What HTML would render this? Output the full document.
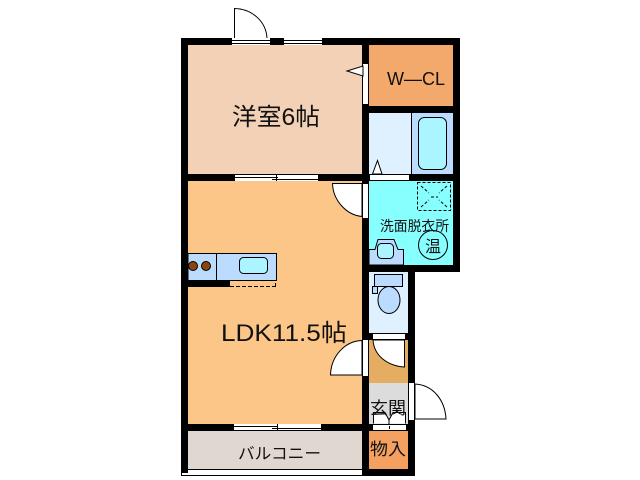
<!DOCTYPE html>
<html><head><meta charset="utf-8">
<style>
html,body{margin:0;padding:0;background:#fff;width:640px;height:480px;overflow:hidden}
svg{display:block}
text{font-family:"Liberation Sans","Noto Sans CJK JP",sans-serif;fill:#111}
</style></head><body>
<svg width="640" height="480" viewBox="0 0 640 480" xmlns="http://www.w3.org/2000/svg">
<!-- walls -->
<g shape-rendering="crispEdges">
<rect x="181" y="38" width="279" height="234" fill="#000"/>
<rect x="181" y="181" width="188" height="292" fill="#000"/>
<rect x="362" y="265" width="53" height="211" fill="#000"/>
<rect x="181" y="469" width="234" height="7" fill="#000"/>
<!-- rooms -->
<rect x="188" y="45" width="174" height="129" fill="#f2d1b6"/>
<rect x="188" y="181" width="174" height="243" fill="#fdc689"/>
<rect x="369" y="45" width="84" height="61" fill="#f3a96c"/>
<rect x="369" y="113" width="84" height="61" fill="#dff1ff"/>
<rect x="412" y="113" width="41" height="61" fill="#bbdcff"/>
<rect x="369" y="181" width="84" height="84" fill="#88ffff"/>
<rect x="369" y="272" width="39" height="61" fill="#dff1ff"/>
<rect x="369" y="340" width="39" height="43" fill="#e5ad62"/>
<rect x="369" y="383" width="39" height="41" fill="#dcdcdc"/>
<rect x="369" y="431" width="39" height="38" fill="#f3a060"/>
<rect x="188" y="431" width="174" height="38" fill="#e0d8d0"/>
<!-- balcony rail -->
<rect x="182" y="473" width="180" height="2" fill="#fff"/>
<rect x="188" y="470" width="174" height="3" fill="#fff"/>
<!-- top window/door -->
<rect x="232" y="38" width="38" height="7" fill="#fff"/>
<rect x="232" y="40" width="38" height="1" fill="#000"/>
<rect x="232" y="43" width="38" height="1" fill="#000"/>
<rect x="284" y="38" width="38" height="7" fill="#fff"/>
<rect x="284" y="40" width="38" height="1" fill="#000"/>
<rect x="284" y="43" width="38" height="1" fill="#000"/>
<!-- window 洋室/LDK -->
<rect x="235" y="175" width="83" height="6" fill="#fff"/>
<rect x="235" y="177" width="43" height="1" fill="#000"/>
<rect x="272" y="179" width="46" height="1" fill="#000"/>
<rect x="276" y="175" width="1" height="6" fill="#000"/>
<!-- window LDK/balcony -->
<rect x="234" y="424" width="87" height="6" fill="#fff"/>
<rect x="234" y="426" width="43" height="1" fill="#000"/>
<rect x="272" y="428" width="49" height="1" fill="#000"/>
<rect x="277" y="424" width="1" height="6" fill="#000"/>
<!-- door slots -->
<rect x="363" y="64" width="5" height="40" fill="#fff"/>
<rect x="363" y="184" width="5" height="34" fill="#fff"/>
<rect x="363" y="340" width="5" height="36" fill="#fff"/>
<rect x="370" y="175" width="39" height="5" fill="#fff"/>
<rect x="373" y="334" width="32" height="5" fill="#fff"/>
<rect x="373" y="425" width="33" height="5" fill="#fff"/>
<rect x="409" y="383" width="5" height="37" fill="#fff"/>
<rect x="389" y="426" width="1" height="3" fill="#000"/>
</g>
<!-- door swings -->
<g fill="#fff" stroke="#000" stroke-width="1">
<path d="M234.500 38V8.500C253 9 266 22 267 38" />
<path d="M347 71L363 66V76Z"/>
<path d="M362 183.500H332.500C333 200 346 215 362 216.500Z"/>
<path d="M362 340.500C345 341 331 356 330.500 375H362Z"/>
<path d="M404.500 340V367C388 366 374 356 373 340Z"/>
<path d="M415 384C433 385 445 400 446 419H415Z"/>
<path d="M372.500 174L377.500 160.500L382 174Z"/>
</g>
<!-- bath -->
<line x1="411.500" y1="113" x2="411.500" y2="174" stroke="#000"/>
<rect x="418.500" y="117.500" width="28" height="52" rx="6" fill="#aaf5ff" stroke="#000"/>
<!-- wash -->
<rect x="417.500" y="182.500" width="33" height="28" fill="none" stroke="#000" stroke-dasharray="3 2"/>
<path d="M421 186L429 193M447 186L439 193M421 207L429 200M447 207L439 200M431 197H438" stroke="#000" stroke-dasharray="3 2" fill="none"/>
<path d="M369 249.500H375L378 239.500H394L398 249.500H403.500V265H369Z" fill="#bbdcff" stroke="#000"/>
<rect x="377.500" y="243.500" width="16" height="15" rx="4" fill="#aaf5ff" stroke="#000"/>
<circle cx="433" cy="245" r="14.500" fill="none" stroke="#000"/>
<text x="380" y="231" font-size="14" textLength="69" lengthAdjust="spacingAndGlyphs">洗面脱衣所</text>
<text x="425" y="252" font-size="16">温</text>
<!-- toilet -->
<rect x="374.500" y="274.500" width="28" height="12" fill="#bbdcff" stroke="#000"/>
<rect x="372.500" y="286.500" width="5" height="7" fill="#bbdcff" stroke="#000"/>
<ellipse cx="389" cy="300" rx="11" ry="13.500" fill="#bbdcff" stroke="#000"/>
<!-- kitchen -->
<rect x="188" y="253.500" width="88.500" height="27" fill="#bbdcff" stroke="#000"/>
<line x1="216.500" y1="253" x2="216.500" y2="281" stroke="#000"/>
<rect x="239.500" y="257.500" width="28" height="16" rx="4" fill="#aaf5ff" stroke="#000"/>
<circle cx="193" cy="266" r="4.500" fill="#8a4510" stroke="#000"/>
<circle cx="206" cy="266" r="4.500" fill="#8a4510" stroke="#000"/>
<rect x="188" y="281" width="42" height="6" fill="#000" shape-rendering="crispEdges"/>
<line x1="230" y1="286.500" x2="275" y2="286.500" stroke="#000" stroke-dasharray="4 2"/>
<line x1="275.500" y1="283" x2="275.500" y2="287" stroke="#000"/>
<!-- entrance -->
<path d="M373.500 423.500V412.500H385L389 420L393 412.500H405.500V423.500" fill="#fff" stroke="#000"/>
<line x1="389" y1="420" x2="389" y2="424" stroke="#000"/>
<!-- labels -->
<text x="232" y="125" font-size="24" textLength="88" lengthAdjust="spacingAndGlyphs">洋室6帖</text>
<text x="221" y="341" font-size="24" textLength="126" lengthAdjust="spacingAndGlyphs">LDK11.5帖</text>
<text x="387" y="85" font-size="18" textLength="58" lengthAdjust="spacingAndGlyphs">W—CL</text>
<text x="370" y="414" font-size="17" textLength="36" lengthAdjust="spacingAndGlyphs">玄関</text>
<text x="370" y="455" font-size="17" textLength="36" lengthAdjust="spacingAndGlyphs">物入</text>
<text x="238" y="459" font-size="16" textLength="83" lengthAdjust="spacingAndGlyphs">バルコニー</text>
</svg>
</body></html>
